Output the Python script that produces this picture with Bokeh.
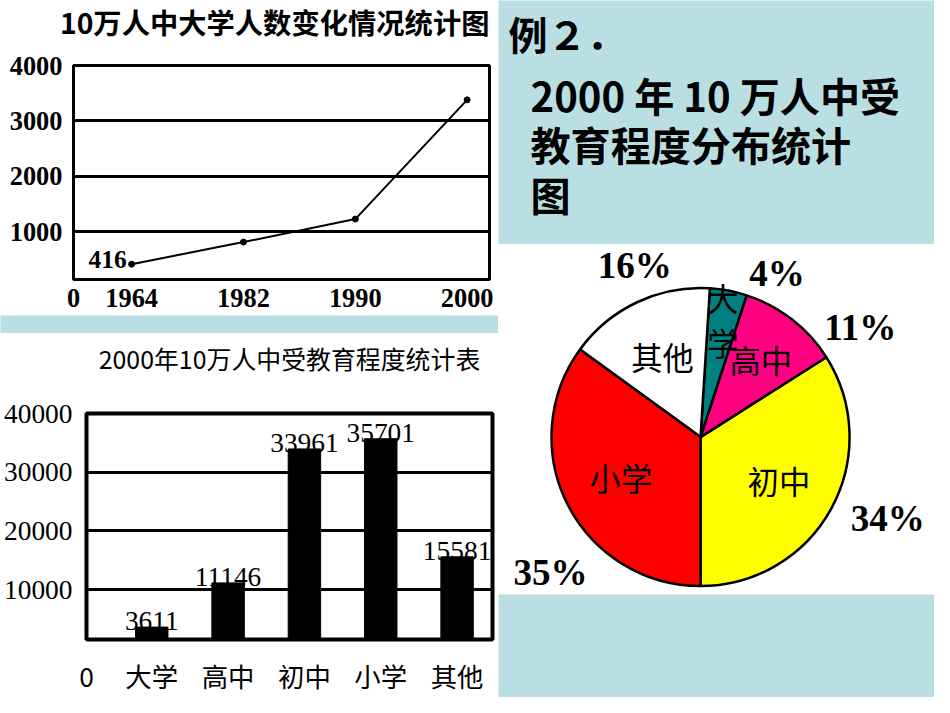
import math
from bokeh.plotting import figure
from bokeh.models import Range1d, Label, FixedTicker, ColumnDataSource
from bokeh.layouts import row, column
from bokeh.embed import file_html
from bokeh.resources import INLINE
from bokeh.core.properties import value

# ---------------- data ----------------
years = ["1964", "1982", "1990", "2000"]
univ_per_100k = [416, 815, 1230, 3380]
line_yticks = [1000, 2000, 3000, 4000]

levels = ["大学", "高中", "初中", "小学", "其他"]
level_counts = [3611, 11146, 33961, 35701, 15581]
bar_yticks = [10000, 20000, 30000, 40000]

pie_order = ["初中", "高中", "大学", "其他", "小学"]
pie_pct = [34, 11, 4, 16, 35]
pie_colors = ["#FFFF00", "#FF0080", "#008080", "#FFFFFF", "#FF0000"]

title_line = "10万人中大学人数变化情况统计图"
title_bar = "2000年10万人中受教育程度统计表"
panel_lines = ["例２．", "2000 年 10 万人中受", "教育程度分布统计", "图"]

# ---------------- layout helpers ----------------
SX = 934 / 950
SY = 697 / 713


def pxx(v):
    return int(round(v * SX))


def pxy(v):
    return int(round(v * SY))


def fs(v):
    return f"{v * SY:.1f}px"


BLUE = "#B9DFE2"
CJK = "Noto Sans CJK SC"
PANEL_FONT = "'Liberation Sans Narrow', 'Noto Sans CJK SC'"
NUM1 = "Liberation Serif"
W_L = pxx(507)
W_R = 934 - W_L
H_LINE, H_GAP = pxy(322), pxy(18)
H_BAR = 697 - H_LINE - H_GAP
H_TXT, H_PIE = pxy(250), pxy(358)
H_BOT = 697 - H_TXT - H_PIE
T1H = pxy(46)
T2H = pxy(52)


def plain_axes(p):
    for ax in (p.xaxis[0], p.yaxis[0]):
        ax.axis_line_color = None
        ax.major_tick_line_color = None
        ax.minor_tick_line_color = None
        ax.major_tick_out = 0
        ax.major_tick_in = 0
        ax.minor_tick_out = 0
        ax.minor_tick_in = 0
        ax.major_label_text_color = "black"


def blank(width, height, color):
    p = figure(width=width, height=height, output_backend="svg", toolbar_location=None,
               x_axis_type=None, y_axis_type=None, min_border=0,
               x_range=Range1d(0, 1), y_range=Range1d(0, 1))
    p.background_fill_color = color
    p.border_fill_color = color
    p.outline_line_color = None
    return p


# ---------------- line chart ----------------
t1 = blank(W_L, T1H, "white")
t1.add_layout(Label(x=pxx(497), y=T1H - pxy(21.5), x_units="screen", y_units="screen",
                    text=title_line, text_align="right", text_baseline="middle",
                    text_font=CJK, text_font_style="bold", text_font_size=fs(29),
                    text_color="black"))

idx = list(range(len(years)))
XL1 = -0.52
H1 = H_LINE - T1H
p1 = figure(width=W_L, height=H1, output_backend="svg", toolbar_location=None,
            x_range=Range1d(XL1, 3.2), y_range=Range1d(140, 4000),
            min_border_left=pxx(74), min_border_right=W_L - pxx(497),
            min_border_top=pxy(66) - T1H, min_border_bottom=H_LINE - pxy(285))
p1.background_fill_color = "white"
p1.border_fill_color = "white"
p1.outline_line_color = "black"
p1.outline_line_width = 3
p1.xgrid.visible = False
p1.ygrid.ticker = FixedTicker(ticks=line_yticks[:-1])
p1.ygrid.grid_line_color = "black"
p1.ygrid.grid_line_width = 3
p1.ygrid.grid_line_alpha = 1
plain_axes(p1)
p1.yaxis.ticker = FixedTicker(ticks=line_yticks)
zero1 = XL1 + 0.001
p1.xaxis.ticker = FixedTicker(ticks=[zero1] + idx)
p1.xaxis.major_label_overrides = {zero1: "0", **{i: y for i, y in enumerate(years)}}
for ax in (p1.xaxis[0], p1.yaxis[0]):
    ax.major_label_text_font = NUM1
    ax.major_label_text_font_style = "bold"
    ax.major_label_text_font_size = fs(27)
p1.yaxis.major_label_standoff = pxx(11)
p1.xaxis.major_label_standoff = pxy(9)

src1 = ColumnDataSource(dict(x=idx, y=univ_per_100k))
p1.line("x", "y", source=src1, line_color="black", line_width=2)
p1.scatter("x", "y", source=src1, size=6, color="black")
p1.text(x=[idx[0]], y=[univ_per_100k[0]], text=[str(univ_per_100k[0])],
        text_align="right", text_baseline="bottom", x_offset=-5, y_offset=4,
        text_font=value(NUM1), text_font_style="bold",
        text_font_size=value(fs(26)), text_color="black")

gap = blank(W_L, H_GAP, BLUE)

# ---------------- bar chart ----------------
t2 = blank(W_L, T2H, "white")
t2.add_layout(Label(x=pxx(293.5), y=T2H - pxy(25), x_units="screen", y_units="screen",
                    text=title_bar, text_align="center", text_baseline="middle",
                    text_font=CJK, text_font_size=fs(25.5), text_color="black"))

bidx = list(range(len(levels)))
XL2 = -0.855
H2 = H_BAR - T2H
p2 = figure(width=W_L, height=H2, output_backend="svg", toolbar_location=None,
            x_range=Range1d(XL2, 4.464), y_range=Range1d(1500, 40000),
            min_border_left=pxx(87), min_border_right=W_L - pxx(500),
            min_border_top=pxy(82) - T2H, min_border_bottom=H_BAR - pxy(313))
p2.background_fill_color = "white"
p2.border_fill_color = "white"
p2.outline_line_color = "black"
p2.outline_line_width = 4
p2.xgrid.visible = False
p2.ygrid.ticker = FixedTicker(ticks=bar_yticks[:-1])
p2.ygrid.grid_line_color = "black"
p2.ygrid.grid_line_width = 3
p2.ygrid.grid_line_alpha = 1
plain_axes(p2)
p2.yaxis.ticker = FixedTicker(ticks=bar_yticks)
p2.yaxis.major_label_text_font = "Liberation Serif"
p2.yaxis.major_label_text_font_size = fs(28)
p2.yaxis.major_label_standoff = pxx(14)
zero2 = XL2 + 0.001
p2.xaxis.ticker = FixedTicker(ticks=[zero2] + bidx)
p2.xaxis.major_label_overrides = {zero2: "0", **{i: c for i, c in enumerate(levels)}}
p2.xaxis.major_label_text_font = CJK
p2.xaxis.major_label_text_font_size = fs(27)
p2.xaxis.major_label_standoff = pxy(16)

src2 = ColumnDataSource(dict(x=bidx, top=level_counts, lab=[str(v) for v in level_counts]))
p2.vbar(x="x", top="top", bottom=0, width=0.425, source=src2,
        fill_color="black", line_color="black")
p2.text(x="x", y="top", text="lab", source=src2, text_align="center",
        text_baseline="bottom", y_offset=3,
        text_font=value("Liberation Serif"), text_font_size=value(fs(28)),
        text_color="black")

# ---------------- right text panel ----------------
p3 = blank(W_R, H_TXT, BLUE)
p3.add_layout(Label(x=pxx(10), y=H_TXT - pxy(33), x_units="screen", y_units="screen",
                    text=panel_lines[0], text_align="left", text_baseline="middle",
                    text_font=PANEL_FONT, text_font_style="bold", text_font_size=fs(40),
                    text_color="black"))
for line_txt, cy in zip(panel_lines[1:], [96, 146, 197]):
    p3.add_layout(Label(x=pxx(33), y=H_TXT - pxy(cy), x_units="screen", y_units="screen",
                        text=line_txt, text_align="left", text_baseline="middle",
                        text_font=PANEL_FONT, text_font_style="bold", text_font_size=fs(41),
                        text_color="black"))

# ---------------- pie chart ----------------
R_px = 152.0 * (SX + SY) / 2
cx_px, cy_px = 205.5 * SX, 197.0 * SY
p4 = figure(width=W_R, height=H_PIE, output_backend="svg", toolbar_location=None,
            x_axis_type=None, y_axis_type=None, min_border=0,
            x_range=Range1d(-cx_px / R_px, (W_R - cx_px) / R_px),
            y_range=Range1d(-(H_PIE - cy_px) / R_px, cy_px / R_px))
p4.background_fill_color = "white"
p4.border_fill_color = "white"
p4.outline_line_color = None

total = float(sum(pie_pct))
starts, ends, mids = [], [], []
acc = -math.pi / 2
for v in pie_pct:
    a = 2 * math.pi * v / total
    starts.append(acc)
    ends.append(acc + a)
    mids.append(acc + a / 2)
    acc += a

src4 = ColumnDataSource(dict(start=starts, end=ends, color=pie_colors))
p4.wedge(x=0, y=0, radius=1, start_angle="start", end_angle="end", source=src4,
         fill_color="color", line_color="black", line_width=2.5)

# inner category labels at slice mid-angles
inner_r = [0.6, 0.66, 0.8, 0.6, 0.6]
in_x = [r * math.cos(m) for r, m in zip(inner_r, mids)]
in_y = [r * math.sin(m) for r, m in zip(inner_r, mids)]
in_txt = ["\n".join(n) if v < 8 else n for n, v in zip(pie_order, pie_pct)]
p4.text(x=in_x, y=in_y, text=in_txt, text_align="center", text_baseline="middle",
        text_font=value(CJK), text_font_size=value(fs(32)), text_color="black",
        text_line_height=1.0)

# outer percentage label anchors (layout, relative to pie centre, in radii)
pct_anchor = {"初中": (1.257, -0.546), "高中": (1.072, 0.737), "大学": (0.513, 1.099),
              "其他": (-0.441, 1.151), "小学": (-1.007, -0.908)}
out_x = [pct_anchor[n][0] for n in pie_order]
out_y = [pct_anchor[n][1] for n in pie_order]
p4.text(x=out_x, y=out_y, text=[f"{v}%" for v in pie_pct], text_align="center",
        text_baseline="middle", text_font=value("Liberation Serif"),
        text_font_style="bold", text_font_size=value(fs(38)), text_color="black")

p5 = blank(W_R, H_BOT, BLUE)

left = column(row(t1), row(p1), row(gap), row(t2), row(p2))
right = column(row(p3), row(p4), row(p5))
layout = row(left, right)
open("out.html", "w").write(file_html(layout, INLINE))
